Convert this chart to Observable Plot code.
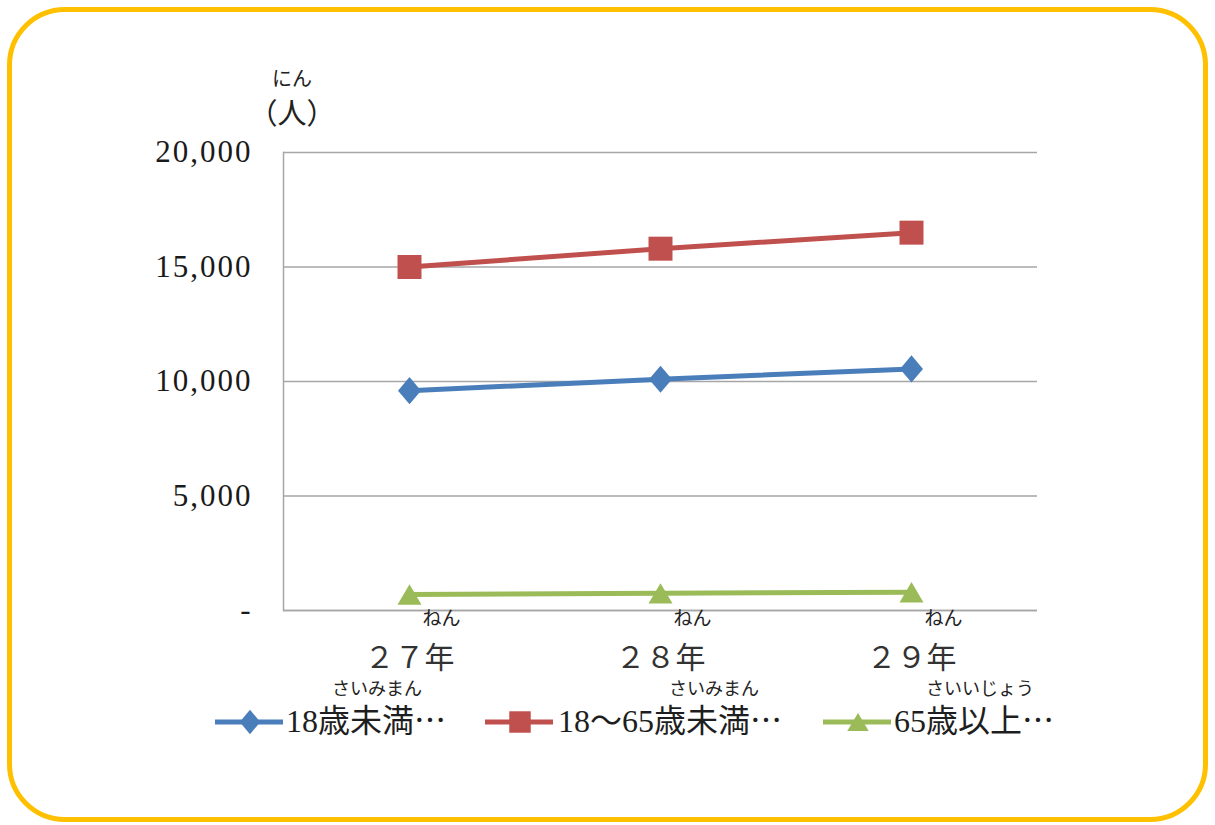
<!DOCTYPE html>
<html>
<head>
<meta charset="utf-8">
<script src="https://cdn.jsdelivr.net/npm/d3@7"></script>
<script src="https://cdn.jsdelivr.net/npm/@observablehq/plot@0.6"></script>
<style>
  body { margin: 0; background: #fff; }
  #wrap { position: relative; width: 1215px; height: 825px; overflow: hidden; background: #fff; }
  #chart { position: absolute; left: 0; top: 0; }
  #border { position: absolute; left: 7px; top: 7px; width: 1201px; height: 815px; box-sizing: border-box;
            border: 5px solid #FFC000; border-radius: 58px; pointer-events: none; }
  .abs { position: absolute; white-space: nowrap; color: #222; }
  .ruby { font-family: "Noto Sans CJK JP", sans-serif; font-size: 18px; line-height: 18px; text-align: center; width: 200px; }
  .ruby20 { font-size: 20px; line-height: 20px; }
  .unit { font-family: "Noto Sans CJK JP", sans-serif; font-size: 29px; line-height: 29px; text-align: center; width: 200px; }
  .ltext { font-family: "Liberation Serif", "Noto Sans CJK JP", serif; font-size: 32px; line-height: 32px; color: #1e1e1e; }
  .ltext .cjk { font-family: "Noto Sans CJK JP", sans-serif; }
</style>
</head>
<body>
<div id="wrap">
  <div id="chart"></div>
  <div id="border"></div>
</div>
<script>
// ---- data ----
const years = ["２７年", "２８年", "２９年"];
const yearRuby = ["ねん", "ねん", "ねん"];
const seriesNames = ["18歳未満…", "18～65歳未満…", "65歳以上…"];
const legendRuby = ["さいみまん", "さいみまん", "さいいじょう"];
const under18 = [9600, 10100, 10550];
const age18to65 = [15000, 15800, 16500];
const age65plus = [700, 750, 800];
const seriesColors = ["#4A7EBB", "#C0504D", "#9BBB59"];
const yTicks = [0, 5000, 10000, 15000, 20000];
const yTickLabels = ["-", "5,000", "10,000", "15,000", "20,000"];
const unitLabel = "（人）";
const unitRuby = "にん";

// ---- table ----
const seriesValues = [under18, age18to65, age65plus];
const rows = years.flatMap((yr, i) =>
  seriesNames.map((s, k) => ({ year: yr, series: s, value: seriesValues[k][i] })));

// ---- custom symbols ----
const diamondSym = { draw(ctx, size) { const r = Math.sqrt(size / Math.PI);
  ctx.moveTo(0, -1.18 * r); ctx.lineTo(r, 0); ctx.lineTo(0, 1.18 * r); ctx.lineTo(-r, 0); ctx.closePath(); } };
const squareSym = { draw(ctx, size) { const r = Math.sqrt(size / Math.PI);
  ctx.rect(-r, -r, 2 * r, 2 * r); } };
const triangleSym = { draw(ctx, size) { const r = Math.sqrt(size / Math.PI);
  ctx.moveTo(0, -0.85 * r); ctx.lineTo(r, 0.85 * r); ctx.lineTo(-r, 0.85 * r); ctx.closePath(); } };
const symbols = [diamondSym, squareSym, triangleSym];
const symR = [11.5, 12, 12];

const chart = Plot.plot({
  width: 1215,
  height: 825,
  marginLeft: 283,
  marginRight: 178,
  marginTop: 152,
  marginBottom: 215,
  x: { type: "point", domain: years, padding: 0.5 },
  y: { domain: [0, 20000] },
  color: { domain: seriesNames, range: seriesColors },
  style: { fontFamily: "'Noto Sans CJK JP', sans-serif", background: "transparent", color: "#222" },
  marks: [
    Plot.gridY(yTicks, { stroke: "#A6A6A6", strokeOpacity: 1, strokeWidth: 1.5 }),
    Plot.frame({ anchor: "left", stroke: "#A6A6A6", strokeWidth: 1.5 }),
    Plot.ruleY([0], { stroke: "#A6A6A6", strokeWidth: 1.5 }),
    Plot.axisY(yTicks, {
      tickSize: 0, tickPadding: 31, label: null,
      tickFormat: d => yTickLabels[yTicks.indexOf(d)],
      fontSize: 31, fontFamily: "'Liberation Serif', serif", fill: "#1a1a1a"
    }),
    Plot.axisX({ tickSize: 0, tickPadding: 36, label: null, fontSize: 30, fill: "#333" }),
    Plot.text(years, { x: d => d, text: (d, i) => yearRuby[i], frameAnchor: "bottom", dy: 14, dx: 32, fontSize: 19, fill: "#222" }),
    Plot.line(rows, { x: "year", y: "value", z: "series", stroke: "series", strokeWidth: 5 }),
    ...seriesNames.map((s, k) =>
      Plot.dot(rows, { filter: d => d.series === s, x: "year", y: "value", fill: seriesColors[k], symbol: symbols[k], r: symR[k], stroke: "none" }))
  ]
});
document.getElementById("chart").appendChild(chart);
d3.select(chart).selectAll('[aria-label="y-axis tick label"] text').style("letter-spacing", "2px");

// ---- unit label ----
const wrap = document.getElementById("wrap");
function absDiv(parent, cls, text, left, top) {
  const el = document.createElement("div");
  el.className = "abs " + cls;
  el.textContent = text;
  el.style.left = left + "px";
  el.style.top = top + "px";
  parent.appendChild(el);
  return el;
}
absDiv(wrap, "ruby ruby20", unitRuby, 292 - 100, 68);
absDiv(wrap, "unit", unitLabel, 292 - 100, 97);

// ---- legend ----
const legendLayout = [
  { lineX: 215, textX: 286, rubyC: 377 },
  { lineX: 485, textX: 558, rubyC: 714 },
  { lineX: 823, textX: 894, rubyC: 980 }
];
seriesNames.forEach((s, k) => {
  const L = legendLayout[k];
  const svg = d3.create("svg").attr("width", 70).attr("height", 30)
    .style("position", "absolute").style("left", L.lineX + "px").style("top", (722 - 15) + "px");
  svg.append("line").attr("x1", 0).attr("x2", 68).attr("y1", 15).attr("y2", 15)
    .attr("stroke", seriesColors[k]).attr("stroke-width", 5);
  const sym = d3.symbol(symbols[k], Math.PI * symR[k] * symR[k] * 0.8);
  svg.append("path").attr("d", sym()).attr("transform", "translate(35,15)").attr("fill", seriesColors[k]);
  wrap.insertBefore(svg.node(), document.getElementById("border"));
  const t = absDiv(wrap, "ltext", "", L.textX, 702);
  const main = s.replace(/…$/, "");
  t.appendChild(document.createTextNode(main));
  if (s.endsWith("…")) {
    const sp = document.createElement("span");
    sp.className = "cjk";
    sp.textContent = "…";
    t.appendChild(sp);
  }
  absDiv(wrap, "ruby", legendRuby[k], L.rubyC - 100, 678);
});
</script>
</body>
</html>
